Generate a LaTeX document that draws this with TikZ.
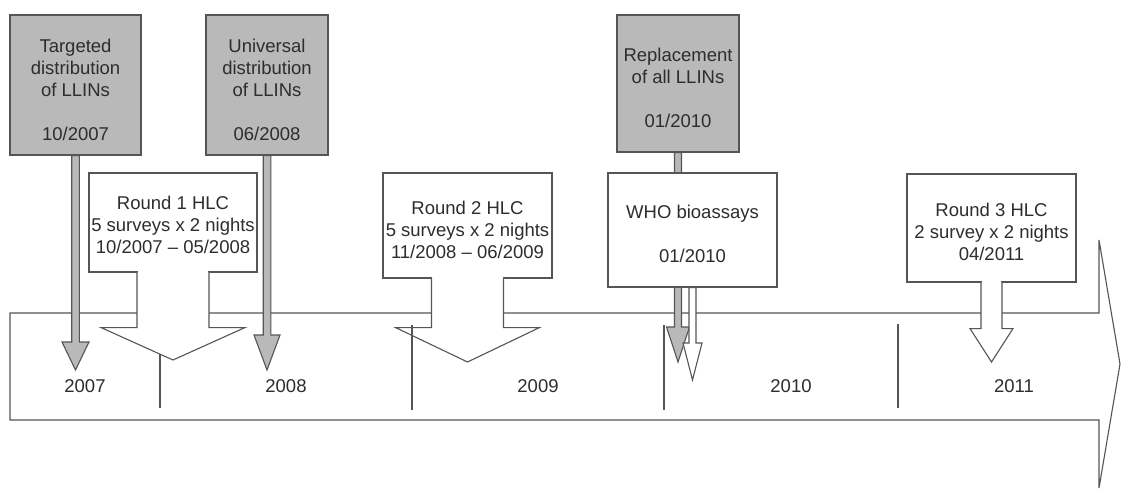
\documentclass[tikz,border=0pt]{standalone}
\usepackage{fontspec}
\setmainfont{Liberation Sans}
\usetikzlibrary{calc}
\definecolor{linecol}{RGB}{85,85,85}
\definecolor{boxgray}{RGB}{185,185,185}
\definecolor{txtcol}{RGB}{45,45,45}
\tikzset{
  ln/.style={draw=linecol, line width=1.1pt, line join=miter},
  graybox/.style={ln, fill=boxgray, inner sep=0pt},
  whitebox/.style={ln, fill=white, inner sep=0pt},
  lbl/.style={text=txtcol, font=\fontsize{18.5}{22}\selectfont, align=center, inner sep=0pt},
  grayarrow/.style={ln, fill=boxgray},
  whitearrow/.style={ln, fill=white},
}
% block arrow: #1 style, #2 start anchor, #3 tip coordinate, #4 shaft half width, #5 head half width, #6 head length
\newcommand\myblockarrow[6]{%
  \filldraw[#1] let \p1=(#2), \p2=(#3) in
  (\x2-#4pt,\y1) -- (\x2-#4pt,\y2+#6pt) -- (\x2-#5pt,\y2+#6pt) -- (\x2,\y2)
  -- (\x2+#5pt,\y2+#6pt) -- (\x2+#4pt,\y2+#6pt) -- (\x2+#4pt,\y1) -- cycle;}
% callout arrow below a box: #1 box node, #2 shaft half, #3 shaft length, #4 head half, #5 tip
\newcommand\hlcarrow[5]{%
  \fill[white] ($(#1.south)+(-#2+0.6,-1.5)$) rectangle ($(#1.south)+(#2-0.6,1.5)$);
  \filldraw[ln, fill=white] ($(#1.south)+(-#2,0)$) -- ($(#1.south)+(-#2,#3)$)
    -- ($(#1.south)+(-#4,#3)$) -- (#5) -- ($(#1.south)+(#4,#3)$)
    -- ($(#1.south)+(#2,#3)$) -- ($(#1.south)+(#2,0)$);}
\begin{document}
\begin{tikzpicture}[x=1pt,y=-1pt]
\useasboundingbox (0,0) rectangle (1123,489);

% main timeline arrow
\draw[ln, fill=white] (10,313) -- (1099,313) -- (1099,240) -- (1120,364)
  -- (1099,488) -- (1099,420) -- (10,420) -- cycle;

% year dividers
\draw[ln] (160,325) -- (160,408);
\draw[ln] (664,325) -- (664,410);
\draw[ln] (898,324) -- (898,408);

% Round 1 HLC
\node[whitebox, minimum width=168pt, minimum height=99pt] (r1) at (173,222.5) {};
\coordinate (r1tip) at (173,360);
\hlcarrow{r1}{36}{55}{72}{r1tip}
\node[lbl] (r1t) at (173,225) {Round 1 HLC\\5 surveys x 2 nights\\10/2007 – 05/2008};

% Round 2 HLC
\node[whitebox, minimum width=169pt, minimum height=105pt] (r2) at (467.5,225.5) {};
\coordinate (r2tip) at (467.5,362);
\hlcarrow{r2}{36}{49}{72}{r2tip}
\node[lbl] (r2t) at (467.5,230) {Round 2 HLC\\5 surveys x 2 nights\\11/2008 – 06/2009};

% Round 3 HLC
\node[whitebox, minimum width=169pt, minimum height=108pt] (r3) at (991.5,228) {};
\coordinate (r3tip) at (991.5,362);
\hlcarrow{r3}{10.5}{46}{21.5}{r3tip}
\node[lbl] (r3t) at (991.5,231.5) {Round 3 HLC\\2 survey x 2 nights\\04/2011};

% grey event boxes
\node[graybox, minimum width=131pt, minimum height=140pt] (tbox) at (75.5,85) {};
\node[lbl] (tt) at (75.5,89.5) {Targeted\\distribution\\of LLINs\\[22pt]10/2007};
\node[graybox, minimum width=122pt, minimum height=140pt] (ubox) at (267,85) {};
\node[lbl] (ut) at (267,89.5) {Universal\\distribution\\of LLINs\\[22pt]06/2008};
\node[graybox, minimum width=122pt, minimum height=137pt] (rbox) at (678,83.5) {};
\node[lbl] (rt) at (678,88) {Replacement\\of all LLINs\\[22pt]01/2010};

% grey arrows
\coordinate (ttip) at (75.5,370);
\coordinate (utip) at (267,370);
\coordinate (rtip) at (678,362);
\myblockarrow{grayarrow}{tbox.south}{ttip}{3.8}{13.5}{28}
\myblockarrow{grayarrow}{ubox.south}{utip}{3.8}{13}{35}
\myblockarrow{grayarrow}{rbox.south}{rtip}{3.5}{11.5}{35}

% WHO bioassays
\node[whitebox, minimum width=169pt, minimum height=114pt] (who) at (692.5,230) {};
\node[lbl] (whot) at (692.5,234) {WHO bioassays\\[22pt]01/2010};
\coordinate (wtip) at (692.5,380);
\myblockarrow{whitearrow}{who.south}{wtip}{3.5}{9.5}{37}

% divider drawn on top
\draw[ln] (412,325) -- (412,410);

% year labels
\node[lbl] (y2007) at (85,386) {2007};
\node[lbl] (y2008) at (286,386) {2008};
\node[lbl] (y2009) at (538,386) {2009};
\node[lbl] (y2010) at (791,386) {2010};
\node[lbl] (y2011) at (1014,386) {2011};
\end{tikzpicture}
\end{document}
